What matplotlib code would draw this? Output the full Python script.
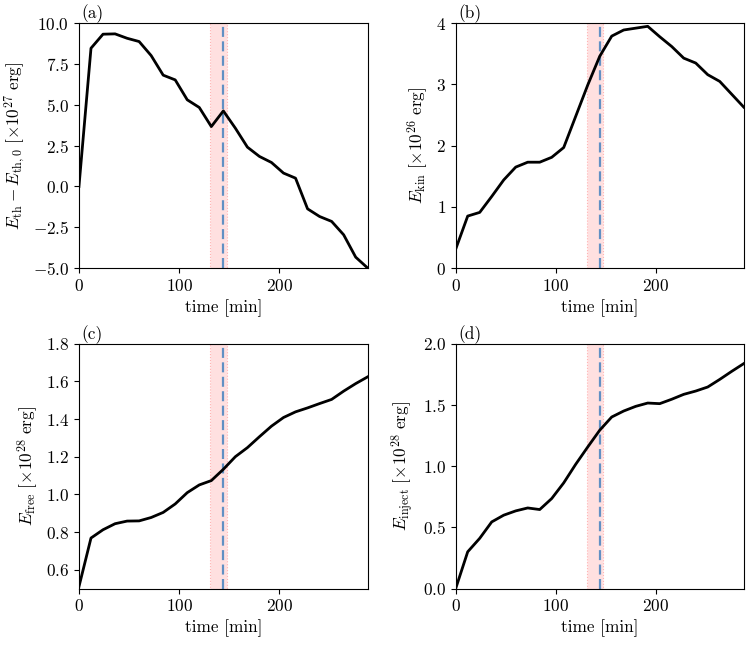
import numpy as np
import matplotlib
matplotlib.use("Agg")
import matplotlib.pyplot as plt

plt.rcParams['font.family'] = 'serif'
plt.rcParams['font.serif'] = ['cmr10']
plt.rcParams['mathtext.fontset'] = 'cm'
plt.rcParams['axes.formatter.use_mathtext'] = True
plt.rcParams['font.size'] = 12.4

# time in minutes (12 min cadence)
time = [0, 12, 24, 36, 48, 60, 72, 84, 96, 108, 120, 132, 144,
        156, 168, 180, 192, 204, 216, 228, 240, 252, 264, 276, 288]

# (a) thermal energy change  [1e27 erg]
e_th = [0.0, 8.47, 9.33, 9.35, 9.08, 8.88, 8.02, 6.82, 6.53, 5.31, 4.84, 3.67, 4.63,
        3.57, 2.41, 1.84, 1.47, 0.82, 0.51, -1.37, -1.84, -2.14, -2.96, -4.33, -5.0]
# (b) kinetic energy  [1e26 erg]
e_kin = [0.31, 0.85, 0.91, 1.17, 1.44, 1.65, 1.73, 1.73, 1.81, 1.97, 2.48, 2.99, 3.46,
         3.79, 3.89, 3.92, 3.95, 3.78, 3.62, 3.43, 3.35, 3.16, 3.05, 2.84, 2.63]
# (c) free energy  [1e28 erg]
e_free = [0.51, 0.768, 0.812, 0.844, 0.858, 0.859, 0.877, 0.904, 0.949, 1.009, 1.05, 1.073, 1.133,
          1.20, 1.248, 1.306, 1.362, 1.408, 1.438, 1.459, 1.482, 1.504, 1.548, 1.588, 1.624]
# (d) injected energy  [1e28 erg]
e_inj = [0.0, 0.30, 0.41, 0.544, 0.599, 0.634, 0.658, 0.645, 0.735, 0.863, 1.015, 1.156, 1.293,
         1.401, 1.45, 1.488, 1.515, 1.51, 1.546, 1.586, 1.613, 1.646, 1.708, 1.774, 1.837]

span_start, span_end = 131, 147.5   # flare window
t_mark = 144

panels = [
    ('(a)', e_th, (-5, 10), np.arange(-5, 10.1, 2.5),
     r'$E_{\rm th}-E_{\rm th,0}\ [\times 10^{27}\ {\rm erg}]$'),
    ('(b)', e_kin, (0, 4), [0, 1, 2, 3, 4],
     r'$E_{\rm kin}\ [\times 10^{26}\ {\rm erg}]$'),
    ('(c)', e_free, (0.5, 1.8), np.arange(0.6, 1.81, 0.2),
     r'$E_{\rm free}\ [\times 10^{28}\ {\rm erg}]$'),
    ('(d)', e_inj, (0, 2), np.arange(0, 2.01, 0.5),
     r'$E_{\rm inject}\ [\times 10^{28}\ {\rm erg}]$'),
]

fig = plt.figure(figsize=(7.52, 6.46), dpi=100)
boxes = [
    [0.105, 0.585, 0.384, 0.379],
    [0.606, 0.585, 0.383, 0.379],
    [0.105, 0.089, 0.384, 0.379],
    [0.606, 0.089, 0.383, 0.379],
]

for box, (tag, vals, ylim, yticks, ylab) in zip(boxes, panels):
    ax = fig.add_axes(box)
    ax.axvspan(span_start, span_end, facecolor='#ffe0e0', edgecolor='#ffb4b4',
               lw=0.8, ls=':', zorder=1)
    ax.axvline(t_mark, color='#6190c4', ls=(0, (4.5, 2)), lw=1.6, zorder=2)
    ax.plot(time, vals, color='black', lw=2, zorder=3)
    ax.set_xlim(0, 288)
    ax.set_ylim(*ylim)
    ax.set_xticks([0, 100, 200])
    ax.set_yticks(yticks)
    ax.set_xlabel('time [min]')
    ax.set_ylabel(ylab)
    ax.text(0.01, 1.0, tag, transform=ax.transAxes, va='bottom', ha='left')

fig.savefig('out.png', dpi=100)
